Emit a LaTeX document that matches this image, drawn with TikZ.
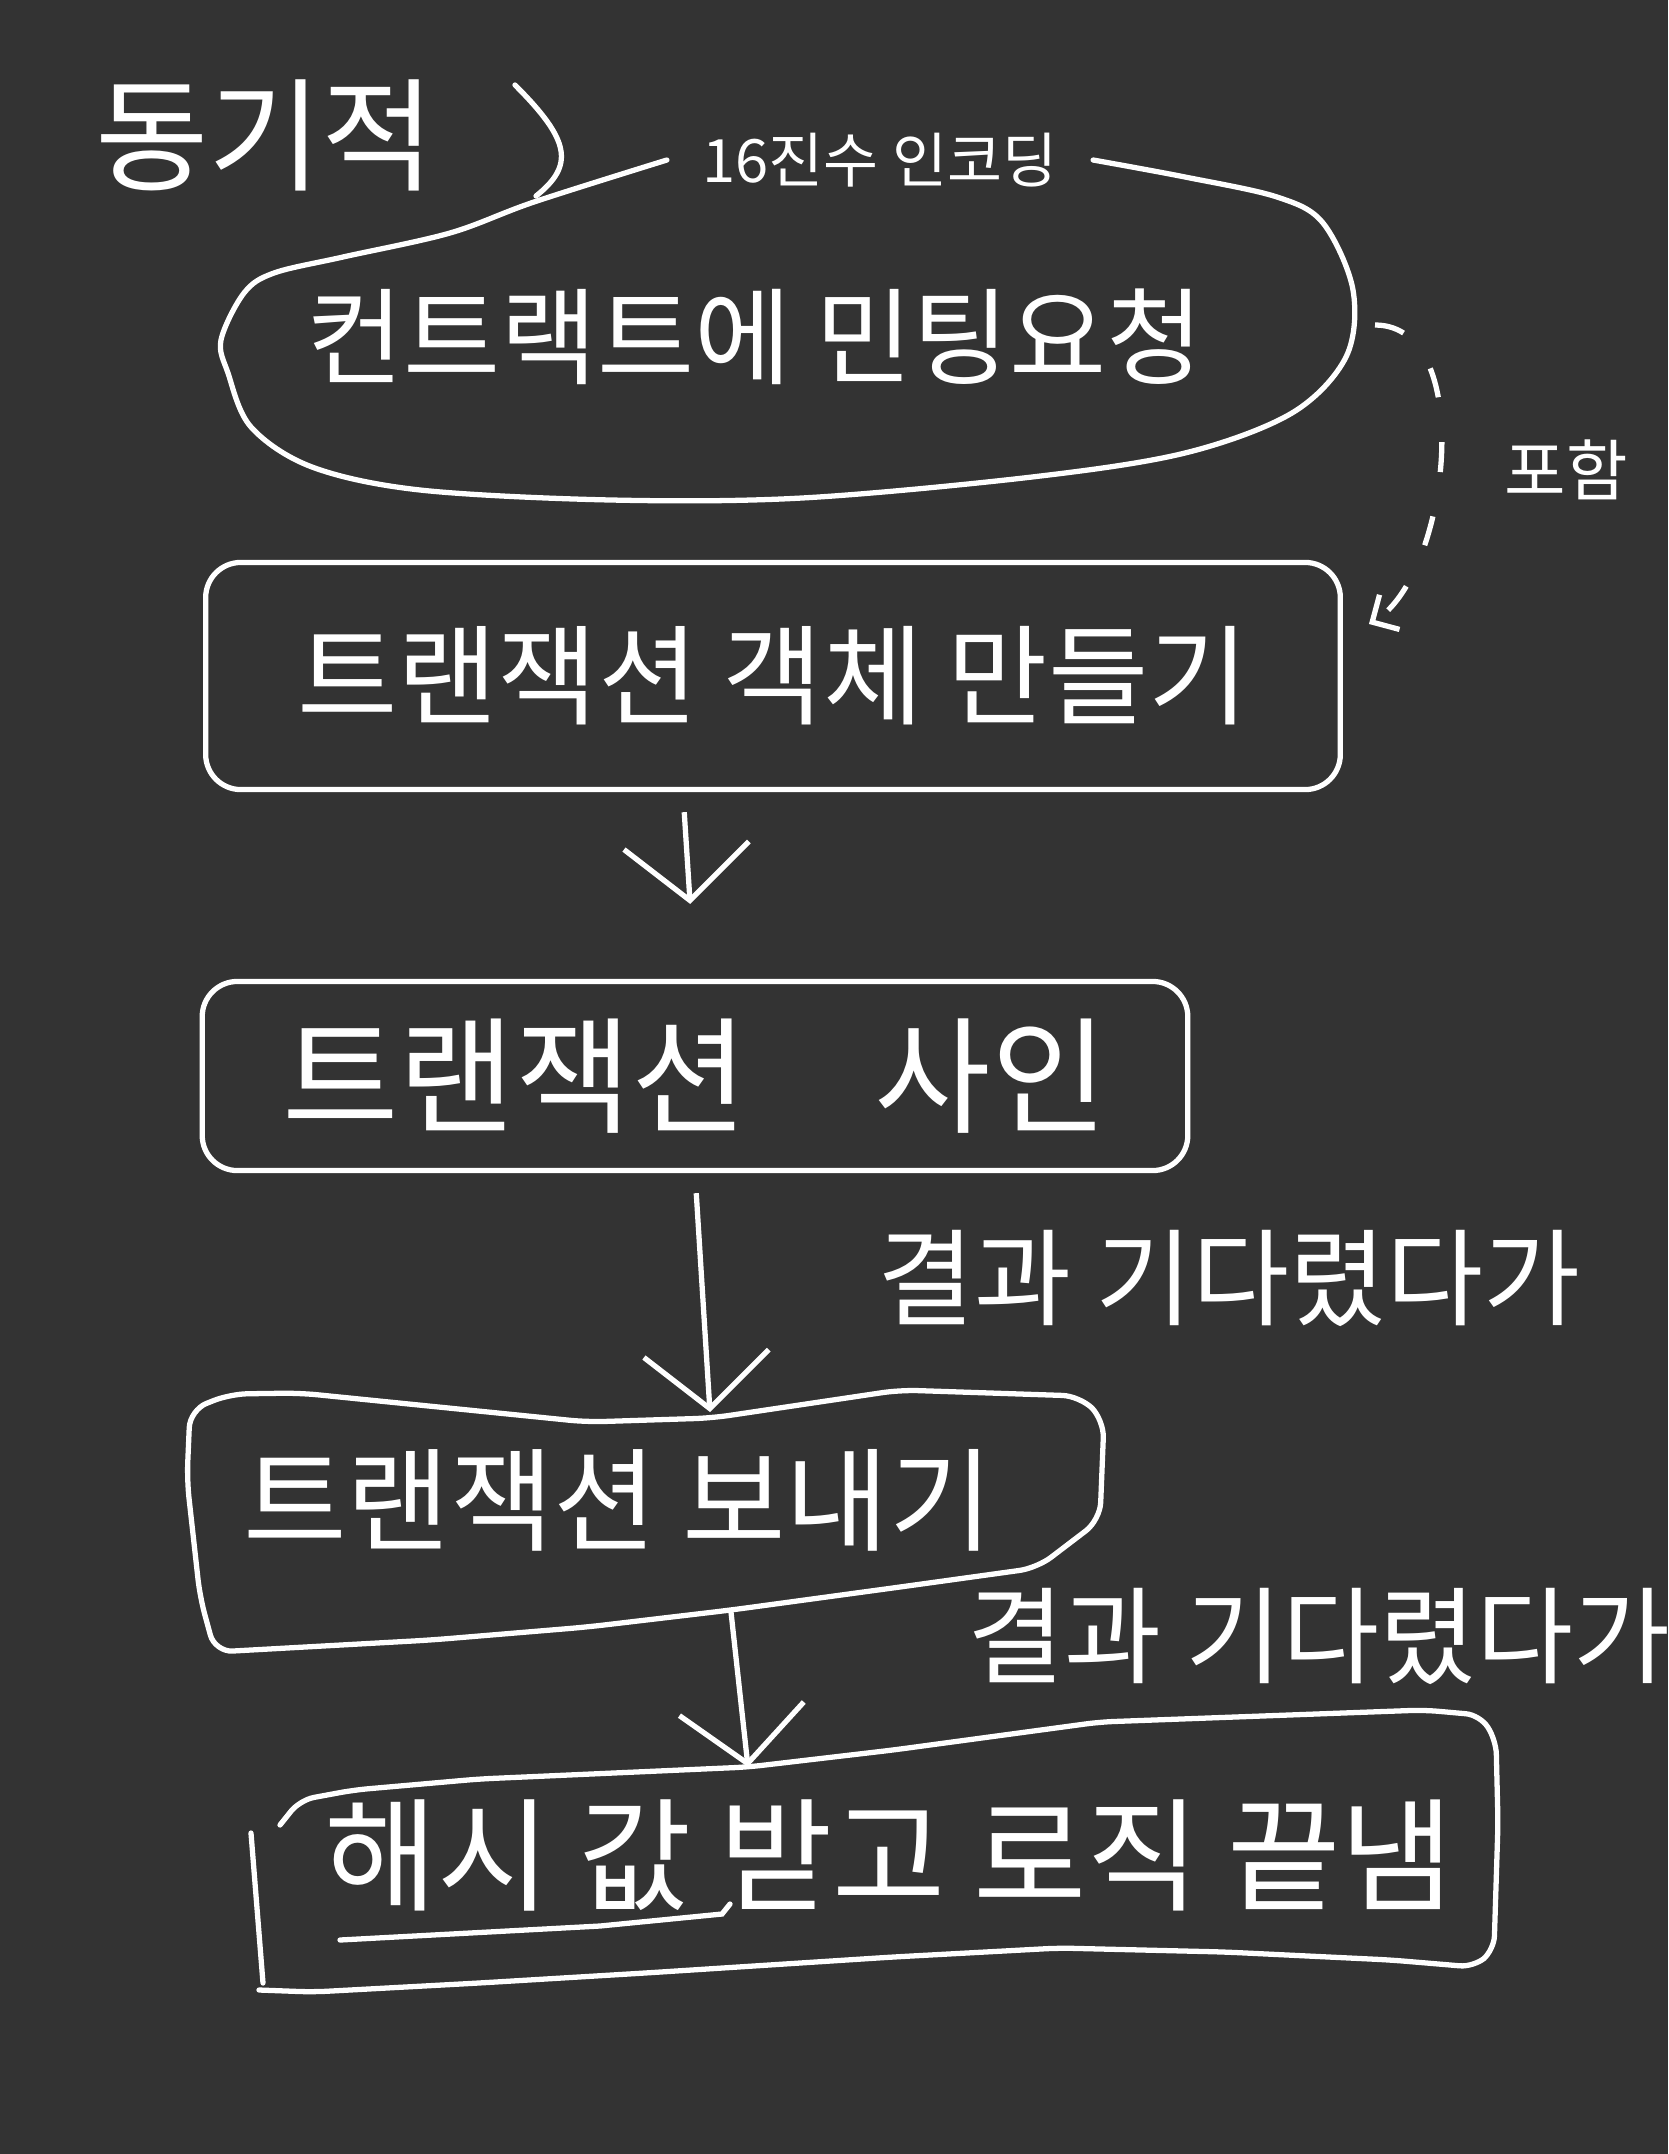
\documentclass[tikz,border=0pt]{standalone}
\usepackage{fontspec}
\setmainfont{Noto Sans CJK KR}
\usetikzlibrary{arrows.meta}
\definecolor{board}{HTML}{333333}

\begin{document}
\begin{tikzpicture}[x=0.01cm,y=-0.01cm,
  pen/.style={draw=white,line width=1.5pt},
  stepbox/.style={pen,rounded corners=10pt,inner sep=0pt,text=white},
  word/.style={text=white,inner sep=2pt},
  arr/.style={white,line width=1.5pt,-{Straight Barb[length=0.55cm,width=1.25cm]}}]
  % Board
  \fill[board] (0,0) rectangle (1668,2154);
  \useasboundingbox (0,0) rectangle (1668,2154);

  % Title
  \node[word] (title) at (265,135) {\fontsize{35}{42}\selectfont 동기적};
  \draw[pen,line cap=round] (515,85) .. controls (570,140) and (575,165) .. (536,196);

  % Request blob, its outline runs into the label
  \node[word] (req) at (755,337) {\fontsize{30}{36}\selectfont 컨트랙트에 민팅요청};
  \node[word,inner xsep=0.35cm] (hex) at (880,160) {\fontsize{17}{20}\selectfont 16진수 인코딩};
  \coordinate (blobR) at (1355,325);
  \draw[pen,line cap=round] plot[smooth,tension=0.55] coordinates {(hex.east) (1185,177)
    (1277,197) (1323,223) (1353,290) (1346,357) (1292,413) (1185,453) (1032,477) (802,498)
    (611,500) (420,490) (312,467) (251,427) (228,373) (221,340) (244,293) (274,273) (343,257)
    (450,233) (534,202) (hex.west)};

  % Steps
  \node[stepbox,minimum width=11.34cm,minimum height=2.27cm] (obj) at (773,676)
    {\fontsize{31}{36}\selectfont 트랜잭션 객체 만들기};
  \node[stepbox,minimum width=9.85cm,minimum height=1.89cm] (sign) at (695,1076)
    {\fontsize{36}{42}\selectfont 트랜잭션\hspace{1em}사인};

  \node[word] (send) at (618,1500) {\fontsize{32}{38}\selectfont 트랜잭션 보내기};
  \coordinate (sendTop) at (710,1412);
  \coordinate (sendBot) at (731,1612);
  \draw[pen,rounded corners=5pt] (190,1410) -- (230,1394) -- (300,1393) -- (587,1422) -- (712,1418)
    -- (900,1390) -- (1080,1396) -- (1104,1420) -- (1100,1520) -- (1037,1568) -- (900,1587)
    -- (731,1610) -- (587,1627) -- (431,1640) -- (215,1652) -- (200,1597) -- (187,1480) -- cycle;

  \node[word] (hash) at (889,1855) {\fontsize{35}{42}\selectfont 해시 값 받고 로직 끝냄};
  \coordinate (hashTop) at (748,1767);
  \draw[pen,rounded corners=4pt,line cap=round] (280,1825) -- (300,1800) -- (354,1790) -- (479,1779)
    -- (hashTop) -- (893,1750) -- (1100,1722) -- (1424,1710) -- (1480,1715) -- (1496,1740)
    -- (1498,1823) -- (1494,1950) -- (1474,1967) -- (1391,1960) -- (1225,1952) -- (1059,1948)
    -- (893,1957) -- (645,1973) -- (479,1983) -- (313,1992) -- (259,1990);
  \draw[pen,line cap=round] (263,1983) -- (251,1833);
  \draw[pen,line cap=round] (340,1940) -- (600,1926) -- (722,1914) -- (730,1904);

  % Include
  \draw[pen,dashed,dash pattern=on 0.3cm off 0.45cm,shorten <=0.2cm,shorten >=0.3cm,
    -{Straight Barb[length=0.2cm,width=0.4cm]}] (blobR) to[out=0,in=30] ([yshift=0.37cm]obj.east);
  \node[word] (incl) at (1566,470) {\fontsize{19}{22}\selectfont 포함};

  % Flow
  \draw[arr,shorten <=0.2cm,shorten >=0.75cm] ([xshift=-0.9cm]obj.south) -- (sign.north);
  \draw[arr,shorten <=0.2cm] (sign.south) -- (sendTop);
  \draw[arr] (sendBot) -- (hashTop);
  \node[word,anchor=west] (wait1) at (870,1278) {\fontsize{30}{36}\selectfont 결과 기다렸다가};
  \node[word,anchor=west] (wait2) at (960,1636) {\fontsize{30}{36}\selectfont 결과 기다렸다가};
\end{tikzpicture}
\end{document}
